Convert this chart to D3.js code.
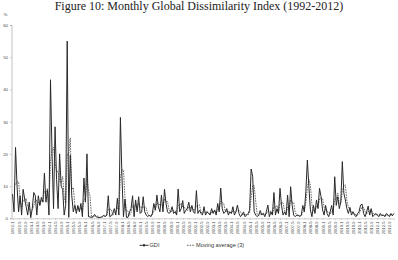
<!DOCTYPE html>
<html>
<head>
<meta charset="utf-8">
<script src="https://cdn.jsdelivr.net/npm/d3@7"></script>
<style>
  body { margin: 0; background: #fff; }
  svg { display: block; }
</style>
</head>
<body>
<div id="container"></div>
<script>
// Chart size
const width = 398;
const height = 260;

// Monthly GDI values (%), one array per year
const gdi1992 = [7.5, 2, 22, 10, 2, 7, 1, 9, 6, 3.6, 1, 5];
const gdi1993 = [0.2, 3, 8, 7, 1, 7, 4, 6.5, 5, 14, 5, 8.8];
const gdi1994 = [1, 43, 20, 3, 28.4, 12, 3, 20, 10, 9, 1, 4];
const gdi1995 = [55, 0.3, 19.6, 7, 2, 4, 1.5, 4, 2, 4.6, 0.5, 12.5];
const gdi1996 = [5, 20, 0.5, 0.4, 0.3, 0.5, 1.2, 0.5, 0.3, 0.2, 0.3, 0.5];
const gdi1997 = [1, 0.5, 1, 7, 0.5, 0.8, 1.5, 3, 1, 6.2, 1, 31.3];
const gdi1998 = [13, 0.5, 6, 0.3, 0.3, 2, 3, 7, 0.5, 5.7, 2, 6.7];
const gdi1999 = [1.5, 2, 6.7, 2, 1, 0.5, 1, 0.5, 1.5, 4.6, 2.5, 7.2];
const gdi2000 = [3.5, 2, 7.2, 2, 9, 4.6, 2, 1.5, 2, 3.6, 1.5, 2];
const gdi2001 = [1, 9.1, 2, 3, 5.5, 1.5, 2.5, 3, 5, 2, 4, 2];
const gdi2002 = [1.5, 8.6, 1.5, 2.5, 1.5, 1, 3.6, 1, 2, 1.5, 1, 3];
const gdi2003 = [1.5, 2.6, 1, 4.6, 2, 9.4, 3, 1.5, 2, 3, 1, 2];
const gdi2004 = [1.5, 3.6, 1, 2, 4.1, 1.5, 0.5, 1, 2, 0.5, 1, 1.5];
const gdi2005 = [2.5, 15.3, 13, 2, 1, 0.5, 1, 2.4, 1, 1.5, 0.5, 2];
const gdi2006 = [4.1, 0.5, 2, 1, 8, 1, 3, 1.5, 9.3, 4, 1, 2];
const gdi2007 = [1, 7.2, 0.5, 9.8, 4, 1, 0.5, 1, 1, 0.5, 1, 4];
const gdi2008 = [2, 8.3, 18.1, 9.8, 2.6, 0.5, 4, 1.5, 5.7, 3, 9.3, 6.7];
const gdi2009 = [2.6, 1, 4, 1.5, 0.5, 2, 4, 1, 12.9, 4, 6.7, 3];
const gdi2010 = [5, 17.6, 7.8, 5.7, 3, 1.5, 3.4, 1, 2, 1, 0.5, 1.5];
const gdi2011 = [2, 4.1, 4.4, 1.5, 0.5, 2, 3.8, 1, 3, 0.5, 1, 1.5];
const gdi2012 = [1, 0.5, 1.5, 0.8, 1, 0.5, 1.5, 1, 0.5, 1.5, 0.8, 1.5];

const years = d3.range(1992, 2013);
const yTicks = [0, 10, 20, 30, 40, 50, 60];

const gdi = [].concat(gdi1992, gdi1993, gdi1994, gdi1995, gdi1996, gdi1997,
    gdi1998, gdi1999, gdi2000, gdi2001, gdi2002, gdi2003, gdi2004, gdi2005,
    gdi2006, gdi2007, gdi2008, gdi2009, gdi2010, gdi2011, gdi2012);

// Category labels "1992-1", "1992-2", ...
const months = [];
years.forEach(y => d3.range(1, 13).forEach(m => months.push(y + "-" + m)));

// 3-month moving average (trailing, as in the spreadsheet trendline)
const movAvg = gdi.map((v, i) => i < 2 ? null : (gdi[i] + gdi[i - 1] + gdi[i - 2]) / 3);

const svg = d3.select("#container")
    .append("svg")
    .attr("width", width)
    .attr("height", height);

// Title
svg.append("text")
    .attr("x", 199)
    .attr("y", 9.5)
    .attr("text-anchor", "middle")
    .style("font-family", "'Liberation Serif', 'Times New Roman', serif")
    .style("font-size", "12px")
    .attr("fill", "#222")
    .text("Figure 10: Monthly Global Dissimilarity Index (1992-2012)");

// Scales
const x = d3.scalePoint()
    .domain(months)
    .range([12.5, 394]);

const y = d3.scaleLinear()
    .domain([0, 60])
    .range([218.3, 25]);

// Y axis
const yAxis = svg.append("g")
    .attr("transform", "translate(11.5,0)")
    .call(d3.axisLeft(y).tickValues(yTicks).tickSize(1.5).tickPadding(2));
yAxis.select(".domain").attr("stroke", "#999").attr("stroke-width", 0.6);
yAxis.selectAll(".tick line").attr("stroke", "#999").attr("stroke-width", 0.6);
yAxis.selectAll("text")
    .style("font-family", "'Liberation Sans', Arial, sans-serif")
    .style("font-size", "4.3px")
    .attr("fill", "#444");

svg.append("text")
    .attr("x", 5.5)
    .attr("y", 15.5)
    .attr("text-anchor", "middle")
    .style("font-family", "'Liberation Sans', Arial, sans-serif")
    .style("font-size", "4.3px")
    .attr("fill", "#444")
    .text("%");

// X axis, a label every 4 months
const xTickLabels = months.filter((d, i) => i % 4 === 0);
const xAxis = svg.append("g")
    .attr("transform", "translate(0,218.3)")
    .call(d3.axisBottom(x).tickValues(xTickLabels).tickSize(1.5).tickPadding(1));
xAxis.select(".domain").attr("stroke", "#aaa").attr("stroke-width", 0.6);
xAxis.selectAll(".tick line").attr("stroke", "#aaa").attr("stroke-width", 0.5);
xAxis.selectAll("text")
    .attr("transform", "rotate(-90)")
    .attr("text-anchor", "end")
    .attr("x", -3)
    .attr("y", 0)
    .attr("dy", "0.35em")
    .style("font-family", "'Liberation Sans', Arial, sans-serif")
    .style("font-size", "4.2px")
    .attr("fill", "#444");

// Lines
const line = d3.line()
    .defined(d => d[1] !== null)
    .x(d => x(d[0]))
    .y(d => y(d[1]));

svg.append("path")
    .datum(months.map((m, i) => [m, movAvg[i]]))
    .attr("fill", "none")
    .attr("stroke", "#444")
    .attr("stroke-width", 0.8)
    .attr("stroke-dasharray", "1.6 1")
    .attr("d", line);

svg.append("path")
    .datum(months.map((m, i) => [m, gdi[i]]))
    .attr("fill", "none")
    .attr("stroke", "#2a2a2a")
    .attr("stroke-width", 1)
    .attr("stroke-linejoin", "round")
    .attr("d", line);

// Legend
const legend = svg.append("g")
    .style("font-family", "'Liberation Sans', Arial, sans-serif")
    .style("font-size", "5.6px")
    .attr("fill", "#333");

legend.append("line")
    .attr("x1", 139.5).attr("x2", 148.5)
    .attr("y1", 245.3).attr("y2", 245.3)
    .attr("stroke", "#222").attr("stroke-width", 0.9);
legend.append("rect")
    .attr("x", 143).attr("y", 244.3)
    .attr("width", 2).attr("height", 2)
    .attr("fill", "#222");
legend.append("text")
    .attr("x", 149.5).attr("y", 247.3)
    .text("GDI");

legend.append("line")
    .attr("x1", 187).attr("x2", 195)
    .attr("y1", 245.3).attr("y2", 245.3)
    .attr("stroke", "#444").attr("stroke-width", 0.8)
    .attr("stroke-dasharray", "1.6 1");
legend.append("text")
    .attr("x", 196).attr("y", 247.3)
    .text("Moving average (3)");
</script>
</body>
</html>
